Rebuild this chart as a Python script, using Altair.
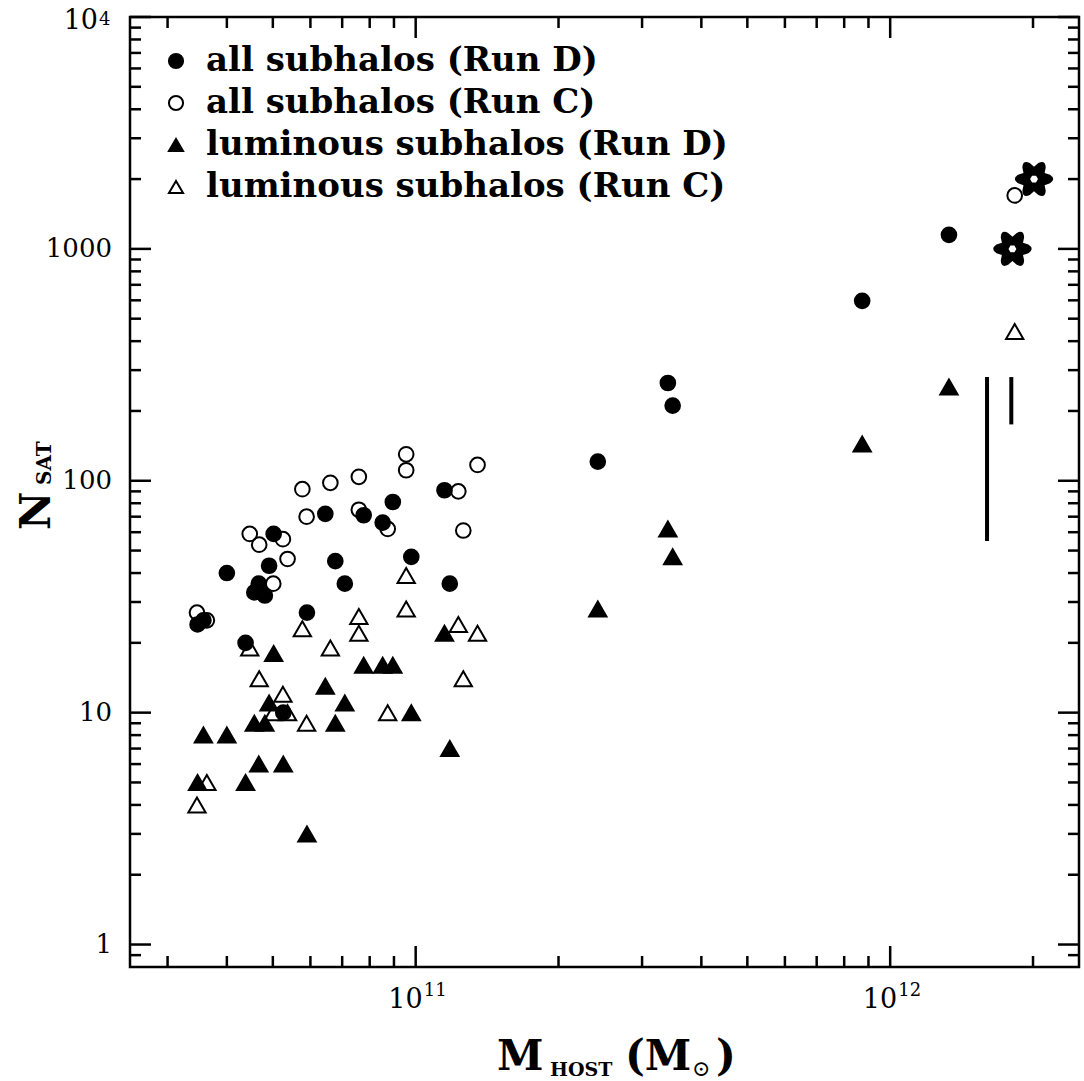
import math
import altair as alt
import pandas as pd

# ---- data -------------------------------------------------------------
# Run D hosts: host mass (Msun), all subhalos, luminous subhalos
run_d_mass = [3.47e10, 3.57e10, 4.0e10, 4.38e10, 4.57e10, 4.67e10, 4.81e10,
              4.91e10, 5.02e10, 5.26e10, 5.90e10, 6.45e10, 6.77e10, 7.09e10,
              7.77e10, 8.52e10, 8.95e10, 9.79e10, 1.15e11, 1.18e11, 2.42e11,
              3.40e11, 3.48e11, 8.73e11, 1.33e12]
run_d_all = [24, 25, 40, 20, 33, 36, 32, 43, 59, 10, 27, 72, 45, 36, 71, 66,
             81, 47, 91, 36, 121, 264, 211, 597, 1150]
run_d_lum = [5, 8, 8, 5, 9, 6, 9, 11, 18, 6, 3, 13, 9, 11, 16, 16, 16, 10,
             22, 7, 28, 62, 47, 144, 254]

# Run C hosts
run_c_mass = [3.46e10, 3.63e10, 4.47e10, 4.68e10, 5.01e10, 5.25e10, 5.37e10,
              5.77e10, 5.89e10, 6.61e10, 7.59e10, 7.59e10, 8.73e10, 9.55e10,
              9.55e10, 1.23e11, 1.26e11, 1.35e11, 1.83e12]
run_c_all = [27, 25, 59, 53, 36, 56, 46, 92, 70, 98, 104, 75, 62, 130, 111,
             90, 61, 117, 1700]
run_c_lum = [4, 5, 19, 14, 10, 12, 10, 23, 9, 19, 26, 22, 10, 39, 28, 24,
             14, 22, 440]

# high-resolution hosts (star symbols)
star_mass = [2.01e12, 1.81e12]
star_n = [2000, 1000]

# satellite-count ranges (vertical bars)
range_mass = [1.6e12, 1.8e12]
range_lo = [55, 175]
range_hi = [280, 280]

series_names = ["all subhalos (Run D)", "all subhalos (Run C)",
                "luminous subhalos (Run D)", "luminous subhalos (Run C)"]

# tick labels: plain numbers, and powers of ten written as base + exponent
x_pow_vals = [1e11, 1e12]
x_pow_exp = ["11", "12"]
y_plain_vals = [1, 10, 100, 1000]
y_plain_text = ["1", "10", "100", "1000"]
y_pow_vals = [1e4]
y_pow_exp = ["4"]

# ---- tables -----------------------------------------------------------
circles = pd.DataFrame({
    "mass": run_d_mass + run_c_mass,
    "n": run_d_all + run_c_all,
    "series": [series_names[0]] * len(run_d_mass) + [series_names[1]] * len(run_c_mass),
})
triangles = pd.DataFrame({
    "mass": run_d_mass + run_c_mass,
    "n": run_d_lum + run_c_lum,
    "series": [series_names[2]] * len(run_d_mass) + [series_names[3]] * len(run_c_mass),
})
stars = pd.DataFrame({"mass": star_mass, "n": star_n})
ranges = pd.DataFrame({"mass": range_mass, "lo": range_lo, "hi": range_hi})

W, H = 949, 950
xs = alt.Scale(type="log", domain=[2.5e10, 2.5e12], nice=False)
ys = alt.Scale(type="log", domain=[0.8, 1e4], nice=False)

shape_scale = alt.Scale(domain=series_names,
                        range=["circle", "circle", "triangle-up", "triangle-up"])
fill_scale = alt.Scale(domain=series_names,
                       range=["black", "transparent", "black", "transparent"])
stroke_scale = alt.Scale(domain=series_names, range=["black"] * 4)

legend = alt.Legend(title=None, orient="none", legendX=29, legendY=27)


def series_encoding():
    return dict(
        shape=alt.Shape("series:N", scale=shape_scale, legend=legend),
        fill=alt.Fill("series:N", scale=fill_scale, legend=legend),
        stroke=alt.Stroke("series:N", scale=stroke_scale, legend=legend),
    )


X = alt.X("mass:Q", scale=xs, axis=None)

circle_layer = alt.Chart(circles).mark_point(
    filled=True, size=215, strokeWidth=2, opacity=1
).encode(x=X, y=alt.Y("n:Q", scale=ys, axis=None), **series_encoding())

triangle_layer = alt.Chart(triangles).mark_point(
    filled=True, size=300, strokeWidth=2, opacity=1
).encode(x=X, y=alt.Y("n:Q", scale=ys, axis=None), **series_encoding())


def star_path(ri=0.62, hole=0.2):
    """Six-pointed star with rounded tips and a small hexagonal hole."""
    def pt(r, deg):
        a = math.radians(deg)
        return f"{r * math.cos(a):.4f},{r * math.sin(a):.4f}"
    parts = [f"M{pt(ri, -30)}"]
    for k in range(6):
        th = 60 * k
        parts.append(f"L{pt(0.84, th - 15)}")
        parts.append(f"Q{pt(1.14, th)} {pt(0.84, th + 15)}")
        parts.append(f"L{pt(ri, th + 30)}")
    parts.append("Z")
    # inner hexagon wound the other way so it stays empty
    parts.append(f"M{pt(hole, 0)}")
    for k in range(1, 6):
        parts.append(f"L{pt(hole, -60 * k)}")
    parts.append("Z")
    return "".join(parts)


star_layer = alt.Chart(stars).mark_point(
    shape=star_path(), filled=True, fill="black", size=1550, strokeWidth=0, opacity=1
).encode(x=X, y=alt.Y("n:Q", scale=ys, axis=None))

range_layer = alt.Chart(ranges).mark_rule(color="black", strokeWidth=4).encode(
    x=X,
    y=alt.Y("lo:Q", scale=ys, axis=None),
    y2="hi:Q",
)

# ---- inward ticks on all four sides ------------------------------------
x_major = [1e11, 1e12]
x_minor = [k * 1e10 for k in range(3, 10)] + [k * 1e11 for k in range(2, 10)] + [2e12]
y_major = [1, 10, 100, 1000, 10000]
y_minor = [0.9] + [k * 10 ** e for e in range(0, 4) for k in range(2, 10)]

TICK_W = 2.5


def xticks(vals, length):
    d = pd.DataFrame({"v": vals})
    base = alt.Chart(d).mark_rule(color="black", strokeWidth=TICK_W)
    enc = dict(x=alt.X("v:Q", scale=xs, axis=None))
    return [
        base.encode(**enc, y=alt.value(H), y2=alt.value(H - length)),
        base.encode(**enc, y=alt.value(0), y2=alt.value(length)),
    ]


def yticks(vals, length):
    d = pd.DataFrame({"v": vals})
    base = alt.Chart(d).mark_rule(color="black", strokeWidth=TICK_W)
    enc = dict(y=alt.Y("v:Q", scale=ys, axis=None))
    return [
        base.encode(**enc, x=alt.value(0), x2=alt.value(length)),
        base.encode(**enc, x=alt.value(W), x2=alt.value(W - length)),
    ]


tick_layers = xticks(x_major, 21) + xticks(x_minor, 11) + yticks(y_major, 21) + yticks(y_minor, 11)

# ---- tick labels --------------------------------------------------------
LABEL_FONT = "DejaVu Serif"
LBL = 26
EXP = 18

x_pow = pd.DataFrame({"v": x_pow_vals, "e": x_pow_exp})
x_base = alt.Chart(x_pow).mark_text(
    text="10", font=LABEL_FONT, fontSize=LBL + 1, align="right", baseline="alphabetic",
    dx=7, color="black"
).encode(x=alt.X("v:Q", scale=xs, axis=None), y=alt.value(H + 41))
x_exp = alt.Chart(x_pow).mark_text(
    font=LABEL_FONT, fontSize=EXP, align="left", baseline="alphabetic",
    dx=8, color="black"
).encode(x=alt.X("v:Q", scale=xs, axis=None), y=alt.value(H + 29), text="e:N")

y_plain = alt.Chart(pd.DataFrame({"v": y_plain_vals, "t": y_plain_text})).mark_text(
    font=LABEL_FONT, fontSize=LBL, align="right", baseline="middle", color="black"
).encode(y=alt.Y("v:Q", scale=ys, axis=None), x=alt.value(-18), text="t:N")

y_pow = pd.DataFrame({"v": y_pow_vals, "e": y_pow_exp})
y_base = alt.Chart(y_pow).mark_text(
    text="10", font=LABEL_FONT, fontSize=LBL + 1, align="right", baseline="middle",
    dy=4, color="black"
).encode(y=alt.Y("v:Q", scale=ys, axis=None), x=alt.value(-32))
y_exp = alt.Chart(y_pow).mark_text(
    font=LABEL_FONT, fontSize=EXP, align="left", baseline="alphabetic",
    dy=8, color="black"
).encode(y=alt.Y("v:Q", scale=ys, axis=None), x=alt.value(-31), text="e:N")

# ---- axis titles with subscripts ---------------------------------------
one = pd.DataFrame({"k": [0]})
SERIF = "DejaVu Serif"


def label(s, x, y, size, angle=0, font=SERIF, weight="bold"):
    return alt.Chart(one).mark_text(
        text=s, font=font, fontSize=size, fontWeight=weight, angle=angle,
        align="left", baseline="alphabetic", color="black"
    ).encode(x=alt.value(x), y=alt.value(y))


title_layers = [
    label("M", 367, 1053, 42),
    label("HOST", 420, 1059, 19),
    label("(M", 495, 1053, 42),
    label("⊙", 562, 1059, 22, weight="normal"),
    label(")", 586, 1053, 42),
    label("N", -80, 513, 42, angle=270),
    label("SAT", -79, 468, 20, angle=270),
]

chart = alt.layer(
    circle_layer, triangle_layer, star_layer, range_layer,
    *tick_layers, x_base, x_exp, y_plain, y_base, y_exp, *title_layers
).properties(
    width=W, height=H,
    autosize=alt.AutoSizeParams(type="none"),
    padding={"left": 130, "top": 17, "right": 5, "bottom": 114},
    background="white",
).configure_view(
    stroke="black", strokeWidth=2.5
).configure_legend(
    labelFont=SERIF, labelFontWeight="bold", labelFontSize=34,
    labelColor="black", symbolSize=200, symbolStrokeWidth=2,
    rowPadding=8, labelOffset=13, padding=0, labelLimit=700,
)

chart.save("out.html", embed_options={"renderer": "svg", "actions": False})
